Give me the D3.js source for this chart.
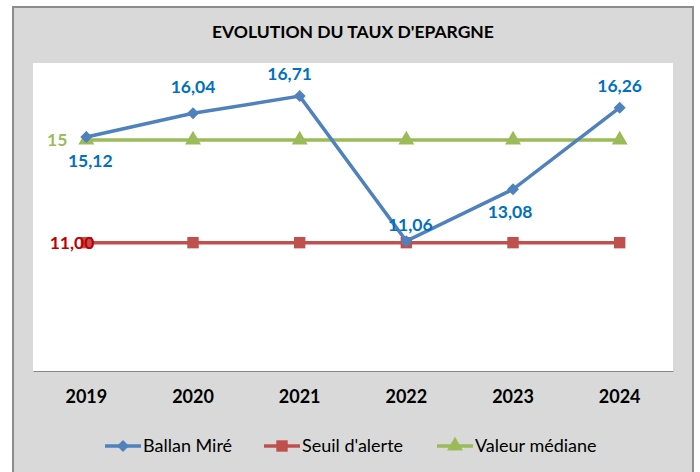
<!DOCTYPE html>
<html>
<head>
<meta charset="utf-8">
<script src="https://cdn.jsdelivr.net/npm/d3@7"></script>
<style>
  body { margin: 0; background: #fff; }
  svg { display: block; font-family: Lato, "Open Sans", sans-serif; }
</style>
</head>
<body>
<svg id="chart" width="700" height="472"></svg>
<script>
var years = ["2019", "2020", "2021", "2022", "2023", "2024"];
var ballan = [15.12, 16.04, 16.71, 11.06, 13.08, 16.26];
var seuil = [11, 11, 11, 11, 11, 11];
var mediane = [15, 15, 15, 15, 15, 15];
var seriesNames = ["Ballan Miré", "Seuil d'alerte", "Valeur médiane"];

var svg = d3.select("svg");
var plot = { left: 33, top: 63, right: 673, bottom: 371 };

// fond du graphique
svg.append("rect")
    .attr("x", 13).attr("y", 7)
    .attr("width", 680).attr("height", 470)
    .attr("fill", "#d9d9d9")
    .attr("stroke", "#8c8c8c")
    .attr("stroke-width", 2);

svg.append("rect")
    .attr("x", plot.left).attr("y", plot.top)
    .attr("width", plot.right - plot.left)
    .attr("height", plot.bottom - plot.top)
    .attr("fill", "#fff");

svg.append("text")
    .attr("x", 353).attr("y", 38)
    .attr("text-anchor", "middle")
    .attr("font-size", 17.5).attr("font-weight", "bold")
    .attr("fill", "#000")
    .text("EVOLUTION DU TAUX D'EPARGNE");

var x = d3.scaleBand().domain(years).range([plot.left, plot.right]);
var y = d3.scaleLinear().domain([6, 18]).range([plot.bottom, plot.top]);
function cx(d) { return x(d) + x.bandwidth() / 2; }

// axe des categories
var xAxis = d3.axisBottom(x).tickSize(0).tickPadding(19);
var gx = svg.append("g")
    .attr("transform", "translate(0," + plot.bottom + ")")
    .call(xAxis);
gx.select(".domain").attr("stroke", "#868686");
gx.selectAll("text")
    .attr("font-size", 18).attr("font-weight", "bold")
    .attr("font-family", "Lato, 'Open Sans', sans-serif")
    .attr("fill", "#000");

var line = d3.line()
    .x(function (d, i) { return cx(years[i]); })
    .y(function (d) { return y(d); });

var series = [
    { name: seriesNames[0], values: ballan, color: "#4f81bd", symbol: d3.symbolSquare, size: 72, rotate: 45 },
    { name: seriesNames[1], values: seuil, color: "#c0504d", symbol: d3.symbolSquare, size: 130, rotate: 0 },
    { name: seriesNames[2], values: mediane, color: "#9bbb59", symbol: d3.symbolTriangle, size: 110, rotate: 0 }
];

// ordre de dessin : seuil, mediane puis Ballan Miré au-dessus
[series[1], series[2], series[0]].forEach(function (s) {
    svg.append("path")
        .attr("d", line(s.values))
        .attr("fill", "none")
        .attr("stroke", s.color)
        .attr("stroke-width", 3.5);
    svg.selectAll(null)
        .data(s.values)
        .enter().append("path")
        .attr("d", d3.symbol().type(s.symbol).size(s.size))
        .attr("transform", function (d, i) {
            return "translate(" + cx(years[i]) + "," + y(d) + ") rotate(" + s.rotate + ")";
        })
        .attr("fill", s.color);
});

function fmt(v) { return v.toFixed(2).replace(".", ","); }

// etiquettes Ballan Miré : decalages (dx, dy)
var labelOffsets = [[4, 30], [0, -20], [-10, -16], [4, -10], [-3, 29], [0, -16]];
svg.selectAll(null)
    .data(ballan)
    .enter().append("text")
    .attr("x", function (d, i) { return cx(years[i]) + labelOffsets[i][0]; })
    .attr("y", function (d, i) { return y(d) + labelOffsets[i][1]; })
    .attr("text-anchor", "middle")
    .attr("font-size", 17.5).attr("font-weight", "bold")
    .attr("fill", "#0070c0")
    .text(fmt);

svg.append("text")
    .attr("x", cx(years[0]) + 8).attr("y", y(seuil[0]) + 6)
    .attr("text-anchor", "end")
    .attr("font-size", 17.5).attr("font-weight", "bold")
    .attr("fill", "#c00000")
    .text(fmt(seuil[0]));

svg.append("text")
    .attr("x", cx(years[0]) - 19).attr("y", y(mediane[0]) + 6)
    .attr("text-anchor", "end")
    .attr("font-size", 17.5).attr("font-weight", "bold")
    .attr("fill", "#9bbb59")
    .text(mediane[0]);

// legende
var legendX = [105, 264, 437];
series.forEach(function (s, i) {
    var g = svg.append("g").attr("transform", "translate(" + legendX[i] + ",446)");
    g.append("line")
        .attr("x1", 0).attr("x2", 36)
        .attr("stroke", s.color).attr("stroke-width", 3.5);
    g.append("path")
        .attr("d", d3.symbol().type(s.symbol).size(s.size))
        .attr("transform", "translate(18,0) rotate(" + s.rotate + ")")
        .attr("fill", s.color);
    g.append("text")
        .attr("x", 38).attr("y", 6)
        .attr("font-size", 18)
        .attr("fill", "#000")
        .text(s.name);
});
</script>
</body>
</html>
